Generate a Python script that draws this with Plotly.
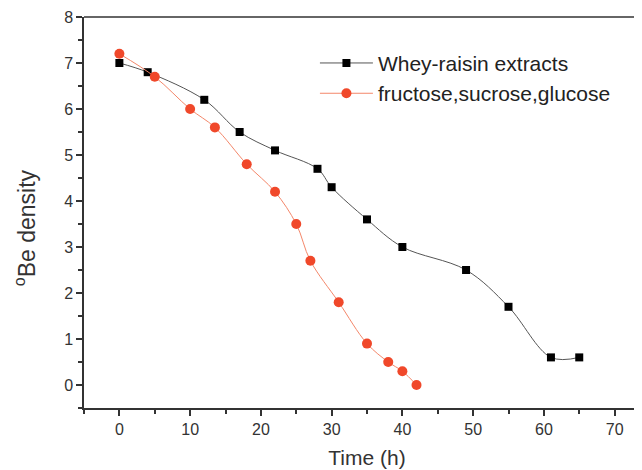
import plotly.graph_objects as go

whey_t = [0, 4, 12, 17, 22, 28, 30, 35, 40, 49, 55, 61, 65]
whey_be = [7.0, 6.8, 6.2, 5.5, 5.1, 4.7, 4.3, 3.6, 3.0, 2.5, 1.7, 0.6, 0.6]
sugar_t = [0, 5, 10, 13.5, 18, 22, 25, 27, 31, 35, 38, 40, 42]
sugar_be = [7.2, 6.7, 6.0, 5.6, 4.8, 4.2, 3.5, 2.7, 1.8, 0.9, 0.5, 0.3, 0.0]
x_ticks = [0, 10, 20, 30, 40, 50, 60, 70]
y_ticks = [0, 1, 2, 3, 4, 5, 6, 7, 8]

FONT = "Liberation Sans, Arial"

fig = go.Figure()
fig.add_trace(go.Scatter(
    x=whey_t, y=whey_be, mode="lines+markers", name="Whey-raisin extracts",
    line=dict(color="#555555", width=1, shape="spline", smoothing=1.0),
    marker=dict(symbol="square", size=8, color="#000000"),
))
fig.add_trace(go.Scatter(
    x=sugar_t, y=sugar_be, mode="lines+markers", name="fructose,sucrose,glucose",
    line=dict(color="#f4876a", width=1, shape="spline", smoothing=1.0),
    marker=dict(symbol="circle", size=10, color="#f0482a"),
))

axis_common = dict(
    showline=True, linecolor="#333333", linewidth=1.5,
    ticks="outside", ticklen=6, tickwidth=1.5, tickcolor="#333333",
    showgrid=False, zeroline=False, automargin=False,
    tickfont=dict(family=FONT, size=16, color="#333333"),
)
fig.update_xaxes(
    range=[-5, 75], tickvals=x_ticks,
    minor=dict(dtick=5, tick0=0, ticks="outside", ticklen=4, tickwidth=1.5, tickcolor="#333333"),
    title=dict(text="Time (h)", font=dict(family=FONT, size=21, color="#333333"), standoff=13),
    **axis_common,
)
fig.update_yaxes(
    range=[-0.5, 8], tickvals=y_ticks,
    minor=dict(dtick=0.5, tick0=0, ticks="outside", ticklen=4, tickwidth=1.5, tickcolor="#333333"),
    **axis_common,
)
fig.add_annotation(
    text="<sup>o</sup>Be density", xref="paper", yref="paper",
    x=-0.104, y=0.46, xanchor="center", yanchor="middle",
    textangle=-90, showarrow=False,
    font=dict(family=FONT, size=23, color="#333333"),
)
fig.add_shape(type="line", xref="paper", yref="paper", x0=0, x1=1, y0=1, y1=1,
              line=dict(color="#333333", width=1.5))
fig.update_layout(
    width=642, height=470,
    margin=dict(l=76, r=0, t=9, b=70),
    plot_bgcolor="white", paper_bgcolor="white",
    showlegend=True,
    legend=dict(x=0.408, y=0.934, xanchor="left", yanchor="top",
                bgcolor="rgba(0,0,0,0)",
                font=dict(family=FONT, size=21, color="#222222"),
                itemwidth=53, tracegroupgap=0),
)
fig.write_html("out.html")
